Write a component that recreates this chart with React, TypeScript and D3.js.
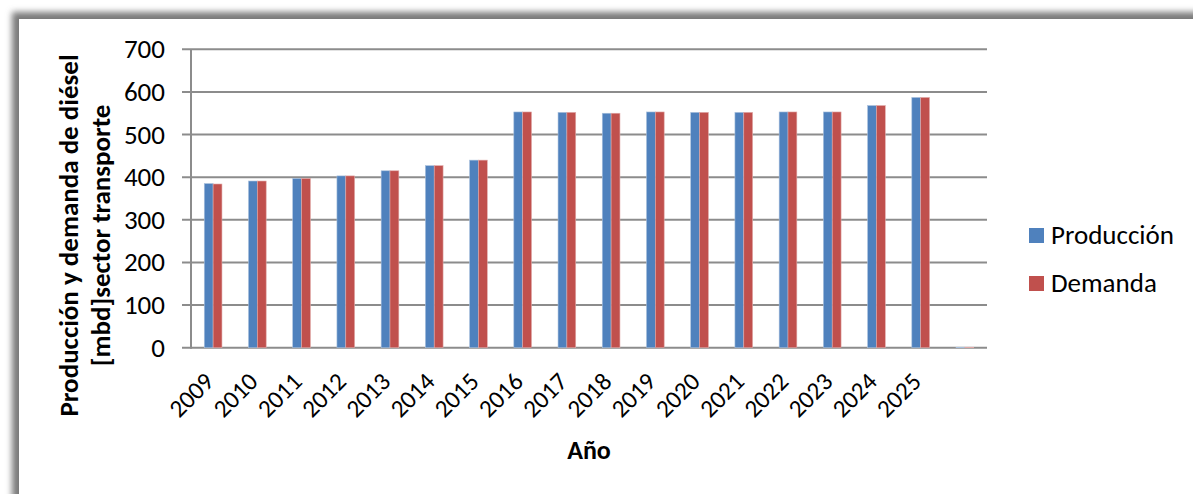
import React from "react";
import * as d3 from "d3";

// Annual diesel production and demand for the transport sector [mbd]
const categories = ["2009", "2010", "2011", "2012", "2013", "2014", "2015", "2016", "2017", "2018", "2019", "2020", "2021", "2022", "2023", "2024", "2025", ""];
const produccion = [385, 391, 397, 403, 415, 427, 440, 553, 552, 550, 553, 552, 552, 553, 553, 568, 587, 1];
const demanda = [384, 391, 397, 403, 415, 427, 440, 553, 552, 550, 553, 552, 552, 553, 553, 568, 587, 1];
const seriesNames = ["Producción", "Demanda"];
const seriesColors = ["#4F81BD", "#C0504D"];
const yTicks = [0, 100, 200, 300, 400, 500, 600, 700];

const W = 1193;
const H = 494;
const FONT = "Calibri, Carlito, Lato, sans-serif";
const FS = 27;
const FS_CAT = 25;

export default function App() {
  const plot = { left: 191, right: 987, top: 49.3, bottom: 347.7 };

  const x = d3.scaleBand<string>().domain(categories.map((c, i) => `${i}`)).range([plot.left, plot.right]).padding(0);
  const step = x.step();
  const groupW = step * 0.4;
  const xs = d3.scaleBand<string>().domain(seriesNames).range([-groupW / 2, groupW / 2]).padding(0);
  const y = d3.scaleLinear().domain([0, 700]).range([plot.bottom, plot.top]);

  const series = [produccion, demanda];
  const titleMid = 235.5;

  return (
    <div style={{ position: "fixed", left: 0, top: 0 }}>
      <svg width={W} height={H} style={{ display: "block", background: "#fff" }}>
        <defs>
          <filter id="frameShadow" x="-5%" y="-5%" width="110%" height="110%">
            <feGaussianBlur stdDeviation="3" />
          </filter>
        </defs>
        {/* chart frame with soft shadow */}
        <rect x={12} y={12} width={W + 40} height={H + 40} fill="#7a7a7a" filter="url(#frameShadow)" />
        <rect x={19} y={19} width={W + 40} height={H + 40} fill="#fff" />

        {/* gridlines and y ticks */}
        {yTicks.map((t) => (
          <g key={t}>
            <line x1={182} x2={plot.right} y1={y(t)} y2={y(t)} stroke="#8c8c8c" strokeWidth={2} />
            <text x={165} y={y(t) + 9} textAnchor="end" fontFamily={FONT} fontSize={FS} fill="#000">
              {t}
            </text>
          </g>
        ))}
        {/* y axis line */}
        <line x1={plot.left} x2={plot.left} y1={plot.top} y2={plot.bottom + 1} stroke="#8c8c8c" strokeWidth={2} />

        {/* bars */}
        {series.map((vals, si) =>
          vals.map((v, i) => {
            const cx = (x(`${i}`) as number) + step / 2;
            const bx = cx + (xs(seriesNames[si]) as number);
            return (
              <rect
                key={`${si}-${i}`}
                x={bx}
                y={y(v)}
                width={xs.bandwidth()}
                height={y(0) - y(v)}
                fill={seriesColors[si]}
                stroke={si === 0 ? "#a9c0dd" : "#e0a9a8"}
                strokeWidth={0.6}
              />
            );
          })
        )}

        {/* category labels */}
        {categories.map((c, i) => {
          const cx = (x(`${i}`) as number) + step / 2;
          return (
            <text
              key={i}
              transform={`translate(${cx + 2},383) rotate(-45)`}
              textAnchor="end"
              fontFamily={FONT}
              fontSize={FS_CAT}
              fill="#000"
            >
              {c}
            </text>
          );
        })}

        {/* axis titles */}
        <text
          transform={`translate(78,${titleMid}) rotate(-90)`}
          textAnchor="middle"
          fontFamily={FONT}
          fontWeight="bold"
          fontSize={FS}
          fill="#000"
        >
          Producción y demanda de diésel
        </text>
        <text
          transform={`translate(110,${titleMid}) rotate(-90)`}
          textAnchor="middle"
          fontFamily={FONT}
          fontWeight="bold"
          fontSize={FS}
          fill="#000"
        >
          [mbd]sector transporte
        </text>
        <text x={589} y={459} textAnchor="middle" fontFamily={FONT} fontWeight="bold" fontSize={26} fill="#000">
          Año
        </text>

        {/* legend */}
        {seriesNames.map((n, i) => (
          <g key={n} transform={`translate(1029,${228 + i * 48})`}>
            <rect x={0} y={0} width={15} height={15} fill={seriesColors[i]} />
            <text x={22} y={15.5} fontFamily={FONT} fontSize={FS} fill="#000">
              {n}
            </text>
          </g>
        ))}
      </svg>
    </div>
  );
}
